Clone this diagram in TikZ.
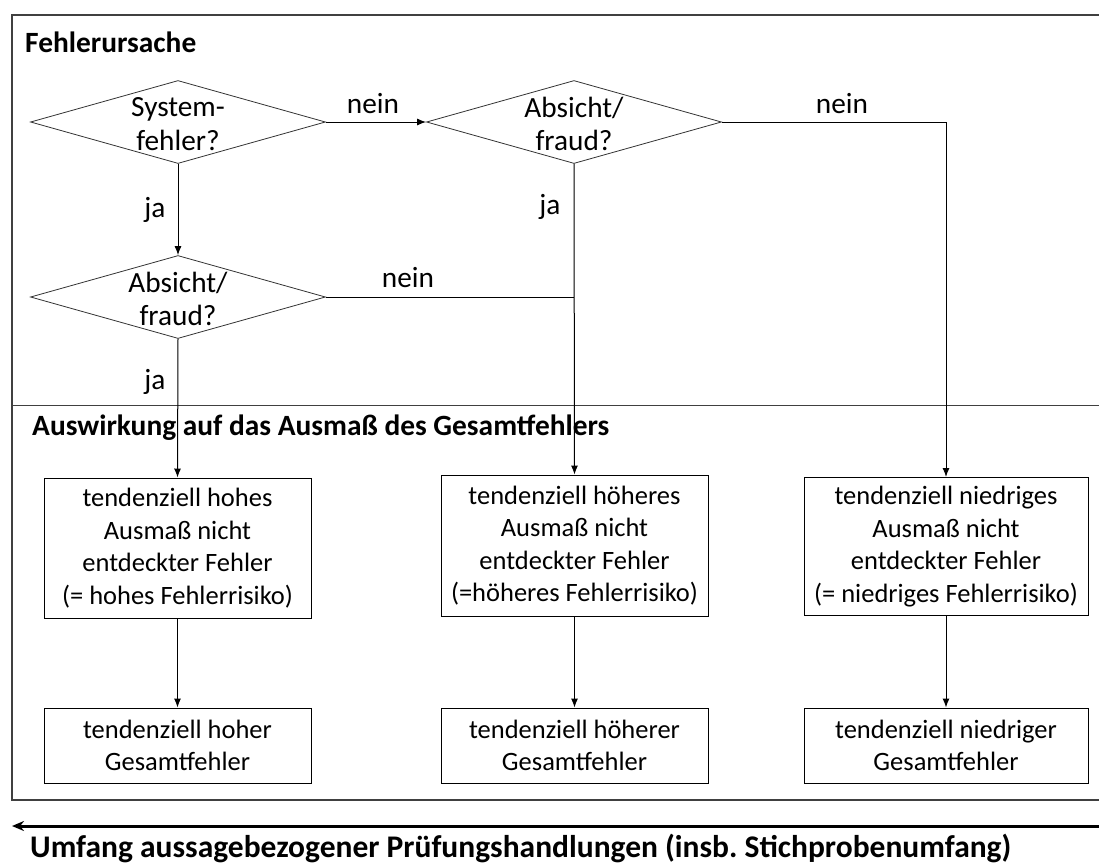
\documentclass[tikz,border=0pt]{standalone}
\usepackage{fontspec}
\setmainfont{Carlito}
\usetikzlibrary{shapes.geometric,arrows.meta}
\begin{document}
\begin{tikzpicture}[x=1pt,y=-1pt,
  txt/.style={font=\fontsize{29.3}{33.5}\selectfont, inner sep=0pt, align=center},
  head/.style={font=\fontsize{29.4}{32}\selectfont\bfseries, inner sep=0pt, anchor=west},
  decision/.style={draw=black!80, line width=0.8pt, shape=diamond, aspect=3.55,
    minimum width=295pt, minimum height=83pt, inner sep=0pt},
  result/.style={draw=black, line width=1pt, rectangle, inner sep=0pt,
    font=\fontsize{26.5}{32.5}\selectfont, align=center},
  flow/.style={line width=1pt, -{Latex[length=9pt,width=7pt]}},
  link/.style={line width=1pt},
  lbl/.style={font=\fontsize{29.3}{32}\selectfont, inner sep=0pt}]
\useasboundingbox (0,0) rectangle (1099,865);
\clip (0,0) rectangle (1099,865);

% frame and section divider
\draw[line width=1.2pt, black!75] (12,15) rectangle (1115,800);
\draw[line width=1pt, black!75] (12,405) -- (1115,405);
\node[head] (h1) at (25,42) {Fehlerursache};
\node[head] (h2) at (32,428) {Auswirkung auf das Ausmaß des Gesamtfehlers};

% decisions
\node[decision] (d1) at (178,122) {};
\node[txt] (t1) at (178,124) {System-\\fehler?};
\node[decision] (d2) at (574,122) {};
\node[txt] (t2) at (574,124) {Absicht/\\fraud?};
\node[decision] (d3) at (178,297) {};
\node[txt] (t3) at (178,299) {Absicht/\\fraud?};

% outcomes
\node[result, minimum width=267pt, minimum height=140pt] (r1) at (177.5,548) {tendenziell hohes\\Ausmaß nicht\\entdeckter Fehler\\(= hohes Fehlerrisiko)};
\node[result, minimum width=267pt, minimum height=141pt] (r2) at (574.5,545.5) {tendenziell höheres\\Ausmaß nicht\\entdeckter Fehler\\(=höheres Fehlerrisiko)};
\node[result, minimum width=284pt, minimum height=138pt] (r3) at (946,546.5) {tendenziell niedriges\\Ausmaß nicht\\entdeckter Fehler\\(= niedriges Fehlerrisiko)};
\node[result, minimum width=267pt, minimum height=75pt] (g1) at (177.5,745.5) {tendenziell hoher\\Gesamtfehler};
\node[result, minimum width=267pt, minimum height=75pt] (g2) at (574.5,745.5) {tendenziell höherer\\Gesamtfehler};
\node[result, minimum width=284pt, minimum height=75pt] (g3) at (946,745.5) {tendenziell niedriger\\Gesamtfehler};

% connectors
\coordinate (c1) at (946,122);
\coordinate (c2) at (574,297);
\draw[flow] (d1.south) -- (d3.north);
\draw[flow] (d1.east) -- (d2.west);
\draw[flow] (d2.east) -- (c1) -- (r3.north);
\draw[flow] (d2.south) -- (r2.north);
\draw[link] (d3.east) -- (c2);
\draw[flow] (d3.south) -- (r1.north);
\draw[flow] (r1.south) -- (g1.north);
\draw[flow] (r2.south) -- (g2.north);
\draw[flow] (r3.south) -- (g3.north);

% branch labels
\node[lbl] (n1) at (373,104) {nein};
\node[lbl] (n2) at (842,104) {nein};
\node[lbl] (n3) at (408,278) {nein};
\node[lbl] (j1) at (155,210) {ja};
\node[lbl] (j2) at (550,207) {ja};
\node[lbl] (j3) at (155,382) {ja};

% scope of substantive procedures
\coordinate (sa) at (1105,826);
\coordinate (sb) at (12,826);
\draw[line width=3pt, -{Stealth[length=12pt,width=10pt]}] (sa) -- (sb);
\node[head, font=\fontsize{31.5}{34}\selectfont\bfseries] (foot) at (30,848) {Umfang aussagebezogener Prüfungshandlungen (insb.\ Stichprobenumfang)};
\end{tikzpicture}
\end{document}
